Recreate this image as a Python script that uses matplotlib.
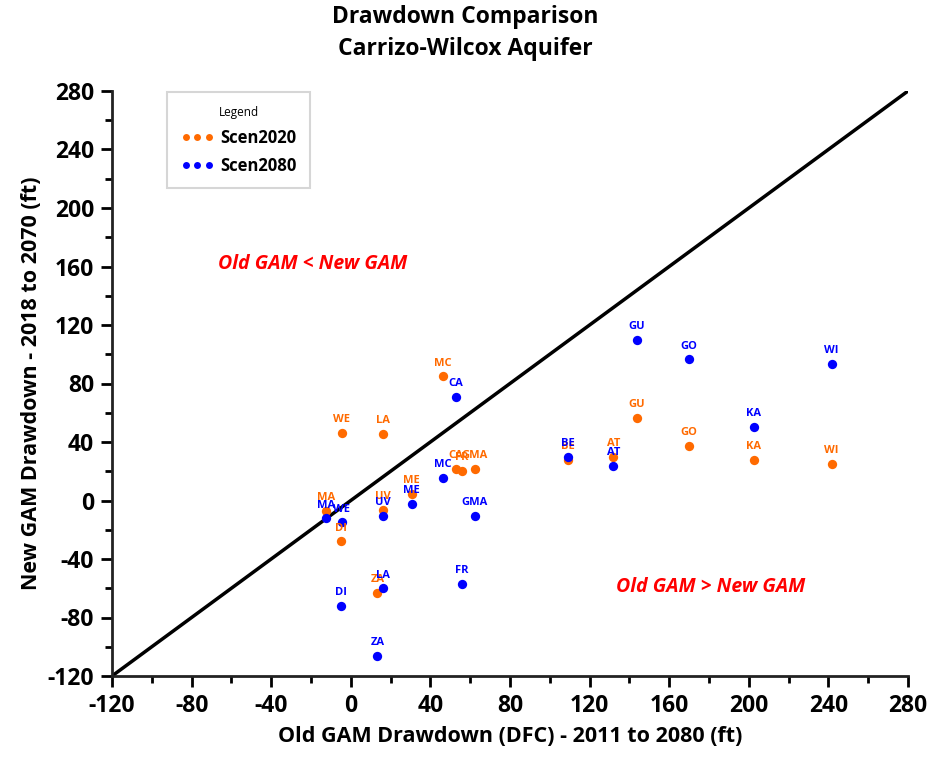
import matplotlib
matplotlib.use("Agg")
import matplotlib.pyplot as plt
from matplotlib.lines import Line2D
import numpy as np

plt.rcParams['font.family'] = ['Open Sans', 'DejaVu Sans']
plt.rcParams['axes.unicode_minus'] = False

counties = ["MA", "DI", "WE", "ZA", "LA", "UV", "ME", "MC", "CA", "FR", "GMA",
            "BE", "AT", "GU", "GO", "KA", "WI"]
old_gam = [-12.5, -4.9, -4.6, 13.3, 16.3, 16.0, 30.6, 46.2, 52.7, 56.0, 62.4,
           109.0, 131.9, 143.8, 169.8, 202.6, 241.6]
scen2020 = [-7.0, -28.0, 46.4, -63.0, 45.5, -6.5, 4.4, 85.0, 21.8, 20.2, 21.8,
            27.7, 30.0, 56.6, 37.3, 27.7, 25.0]
scen2080 = [-12.2, -72.0, -14.9, -106.0, -60.0, -10.6, -2.4, 15.6, 71.0, -57.0, -10.6,
            30.0, 23.6, 110.0, 96.5, 50.5, 93.3]
one_to_one = [-120, 280]

c20 = "#FF6A00"
c80 = "#0000FF"

fig = plt.figure(figsize=(9.31, 7.61), dpi=100)
ax = fig.add_axes([112/931, 1-676/761, 796/931, 585/761])

ax.plot(one_to_one, one_to_one, color="black", lw=2.5, zorder=1)
ax.scatter(old_gam, scen2020, s=45, color=c20, zorder=3, linewidths=0)
ax.scatter(old_gam, scen2080, s=45, color=c80, zorder=4, linewidths=0)

for x, y, n in zip(old_gam, scen2020, counties):
    ax.annotate(n, (x, y), xytext=(0, 5.5), textcoords="offset points", ha="center",
                va="bottom", fontsize=8, fontweight="bold", color=c20, zorder=5)
for x, y, n in zip(old_gam, scen2080, counties):
    ax.annotate(n, (x, y), xytext=(0, 5.5), textcoords="offset points", ha="center",
                va="bottom", fontsize=8, fontweight="bold", color=c80, zorder=6)

ax.set_xlim(-120, 280)
ax.set_ylim(-120, 280)
ax.set_xticks(np.arange(-120, 281, 40))
ax.set_yticks(np.arange(-120, 281, 40))
ax.set_xticks(np.arange(-100, 281, 40), minor=True)
ax.set_yticks(np.arange(-100, 281, 40), minor=True)
ax.tick_params(axis="both", which="major", length=8, width=2, labelsize=16.5, pad=5)
ax.tick_params(axis="both", which="minor", length=5, width=2)
for lab in ax.get_xticklabels() + ax.get_yticklabels():
    lab.set_fontweight("bold")
ax.spines["top"].set_visible(False)
ax.spines["right"].set_visible(False)
ax.spines["left"].set_linewidth(2)
ax.spines["bottom"].set_linewidth(2)
ax.spines["left"].set_color("#222222")
ax.spines["bottom"].set_color("#222222")

ax.set_xlabel("Old GAM Drawdown (DFC) - 2011 to 2080 (ft)", fontsize=15.5, fontweight="bold", labelpad=6)
ax.set_ylabel("New GAM Drawdown - 2018 to 2070 (ft)", fontsize=15.5, fontweight="bold", labelpad=4)

fig.text(0.5, 0.993, "Drawdown Comparison\nCarrizo-Wilcox Aquifer", ha="center", va="top",
         fontsize=16.5, fontweight="bold", linespacing=1.45)

ax.text(-19, 162, "Old GAM < New GAM", color="red", fontsize=14, fontweight="bold",
        style="italic", ha="center", va="center")
ax.text(181, -59, "Old GAM > New GAM", color="red", fontsize=14, fontweight="bold",
        style="italic", ha="center", va="center")

handles = [Line2D([], [], ls="none", marker="o", ms=5, color=c20, markeredgewidth=0),
           Line2D([], [], ls="none", marker="o", ms=5, color=c80, markeredgewidth=0)]
leg = ax.legend(handles, ["Scen2020", "Scen2080"], loc="upper left",
                bbox_to_anchor=(47/796, 1.012), title="Legend",
                numpoints=3, fontsize=12, title_fontsize=8.5,
                frameon=True, fancybox=False, edgecolor="#cccccc", borderpad=0.8,
                handletextpad=0.4, labelspacing=0.6, handlelength=2.0)
for t in leg.get_texts():
    t.set_fontweight("bold")
leg.get_frame().set_linewidth(1.5)

fig.savefig("out.png", dpi=100)
